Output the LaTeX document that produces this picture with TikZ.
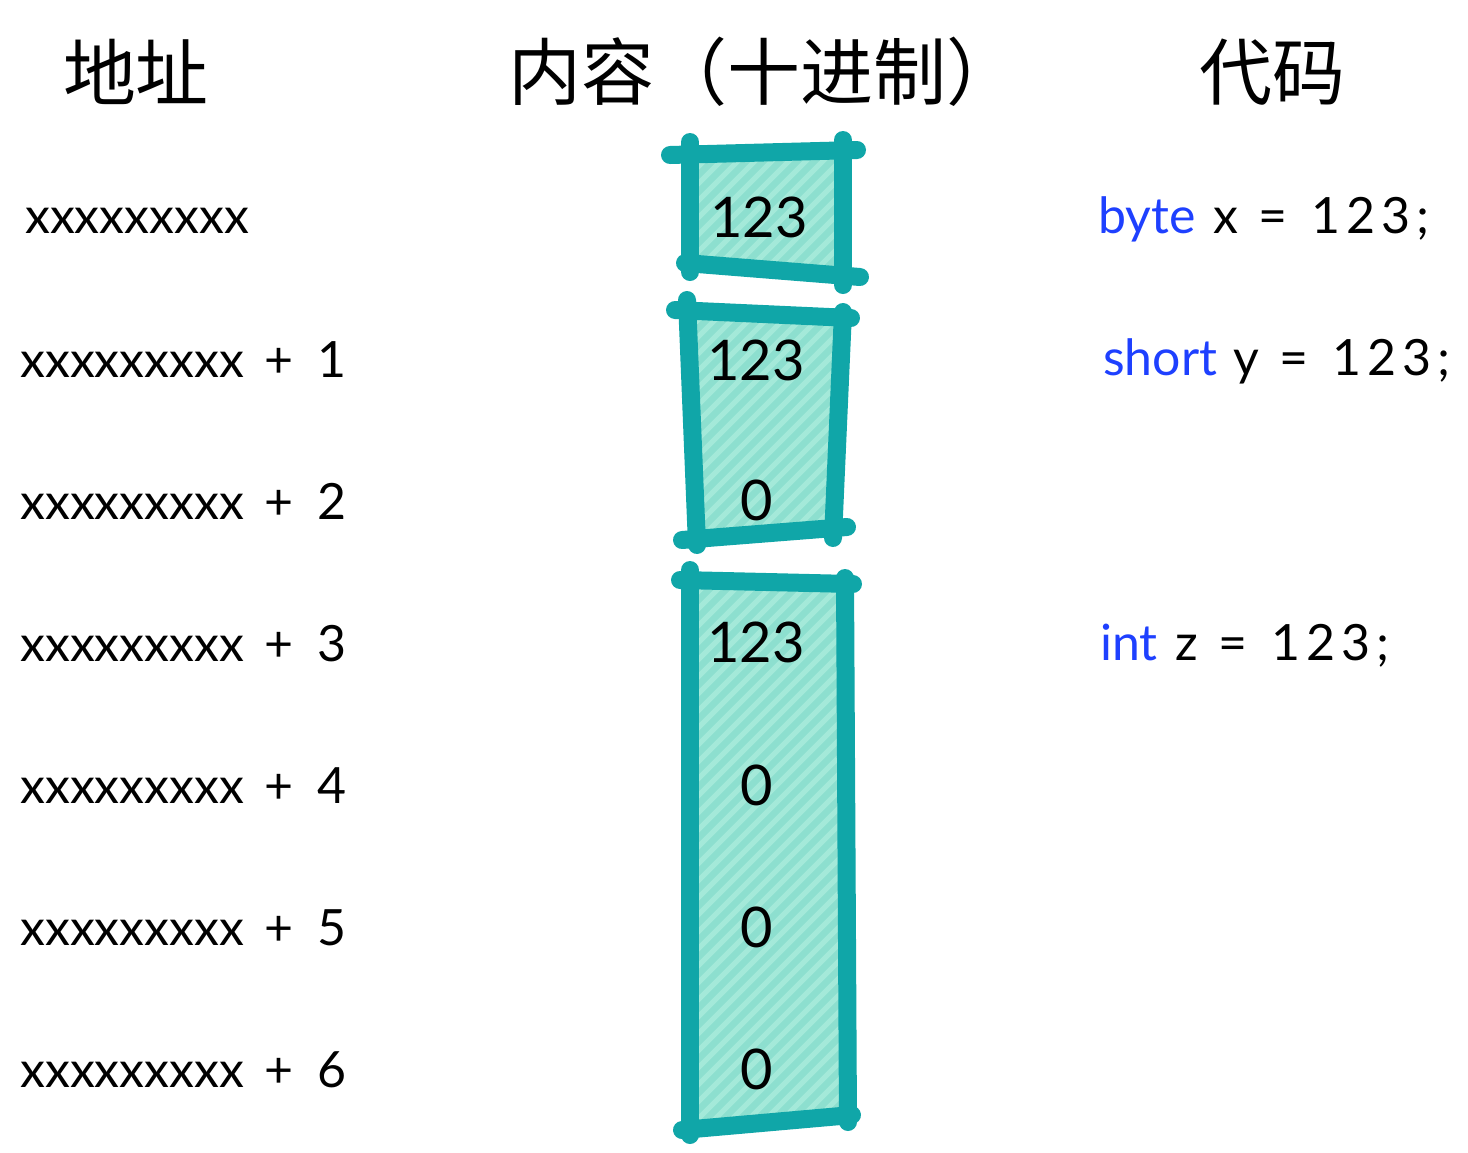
\documentclass[tikz,border=0pt]{standalone}
\usepackage{fontspec}
\setmainfont{Lato}
\newfontfamily\cjk{Noto Sans CJK SC}
\definecolor{tealstroke}{RGB}{16,166,168}
\definecolor{tealfill}{RGB}{141,223,207}
\definecolor{tealstripe}{RGB}{164,233,217}
\definecolor{codeblue}{RGB}{30,64,255}
\newcommand{\digs}[1]{{\addfontfeature{LetterSpace=12}#1}}
\newcommand{\plusto}[1]{\hspace{20pt}+\hspace{24pt}#1}
\tikzset{
  edge/.style={draw=tealstroke,line width=18pt,line cap=round},
  stripe/.style={draw=tealstripe,line width=5pt},
  head/.style={font=\cjk\fontsize{73}{78}\selectfont,inner sep=0pt},
  addr/.style={font=\fontsize{50}{54}\selectfont,inner sep=0pt,anchor=base west},
  val/.style={font=\fontsize{56}{60}\selectfont,inner sep=0pt,anchor=base},
  code/.style={font=\fontsize{50}{54}\selectfont,inner sep=0pt,anchor=base west}
}
\begin{document}
\begin{tikzpicture}[x=1pt,y=-1pt]
\useasboundingbox (0,0) rectangle (1468,1152);
% ---------- box fills with hatching ----------
\foreach \pts in {{(690,155) -- (843,150) -- (843,272) -- (690,263)},
                  {(687,312) -- (843,318) -- (833,530) -- (697,540)},
                  {(690,580) -- (845,584) -- (848,1118) -- (690,1128)}}{
  \begin{scope}
    \path[clip] \pts -- cycle;
    \fill[tealfill] (600,100) rectangle (900,1150);
    \foreach \k in {0,...,80}{
      \draw[stripe] (\k*17-420,1200) -- ++(1300,-1300);
    }
  \end{scope}
}
% ---------- box 1 edges ----------
\draw[edge] (670,155) -- (857,150);
\draw[edge] (690,142) -- (690,272);
\draw[edge] (843,140) -- (843,285);
\draw[edge] (685,263) -- (860,277);
% ---------- box 2 edges ----------
\draw[edge] (675,310) -- (851,318);
\draw[edge] (687,300) -- (697,545);
\draw[edge] (843,312) -- (833,538);
\draw[edge] (682,540) -- (847,527);
% ---------- box 3 edges ----------
\draw[edge] (680,580) -- (853,584);
\draw[edge] (690,570) -- (690,1135);
\draw[edge] (845,578) -- (848,1122);
\draw[edge] (682,1130) -- (852,1115);
% ---------- headers ----------
\node[head] (h1) at (136,72) {地址};
\node[head] (h2) at (764,72) {内容（十进制）};
\node[head] (h3) at (1272,72) {代码};
% ---------- addresses ----------
\node[addr] (a0) at (25,233) {xxxxxxxxx};
\node[addr] (a1) at (20,377) {xxxxxxxxx\plusto{1}};
\node[addr] (a2) at (20,519) {xxxxxxxxx\plusto{2}};
\node[addr] (a3) at (20,661) {xxxxxxxxx\plusto{3}};
\node[addr] (a4) at (20,803) {xxxxxxxxx\plusto{4}};
\node[addr] (a5) at (20,945) {xxxxxxxxx\plusto{5}};
\node[addr] (a6) at (20,1087) {xxxxxxxxx\plusto{6}};
% ---------- values ----------
\node[val] (v0) at (759,237) {123};
\node[val] (v1) at (756,380) {123};
\node[val] (v2) at (757,520) {0};
\node[val] (v3) at (756,662) {123};
\node[val] (v4) at (757,805) {0};
\node[val] (v5) at (757,947) {0};
\node[val] (v6) at (757,1089) {0};
% ---------- code ----------
\node[code] (c0) at (1098,233) {\textcolor{codeblue}{byte}\hspace{18pt}x\hspace{20pt}=\hspace{24pt}\digs{123;}};
\node[code] (c1) at (1103,375) {\textcolor{codeblue}{short}\hspace{16pt}y\hspace{20pt}=\hspace{24pt}\digs{123;}};
\node[code] (c2) at (1100,660) {\textcolor{codeblue}{int}\hspace{18pt}z\hspace{20pt}=\hspace{24pt}\digs{123;}};
\end{tikzpicture}
\end{document}
